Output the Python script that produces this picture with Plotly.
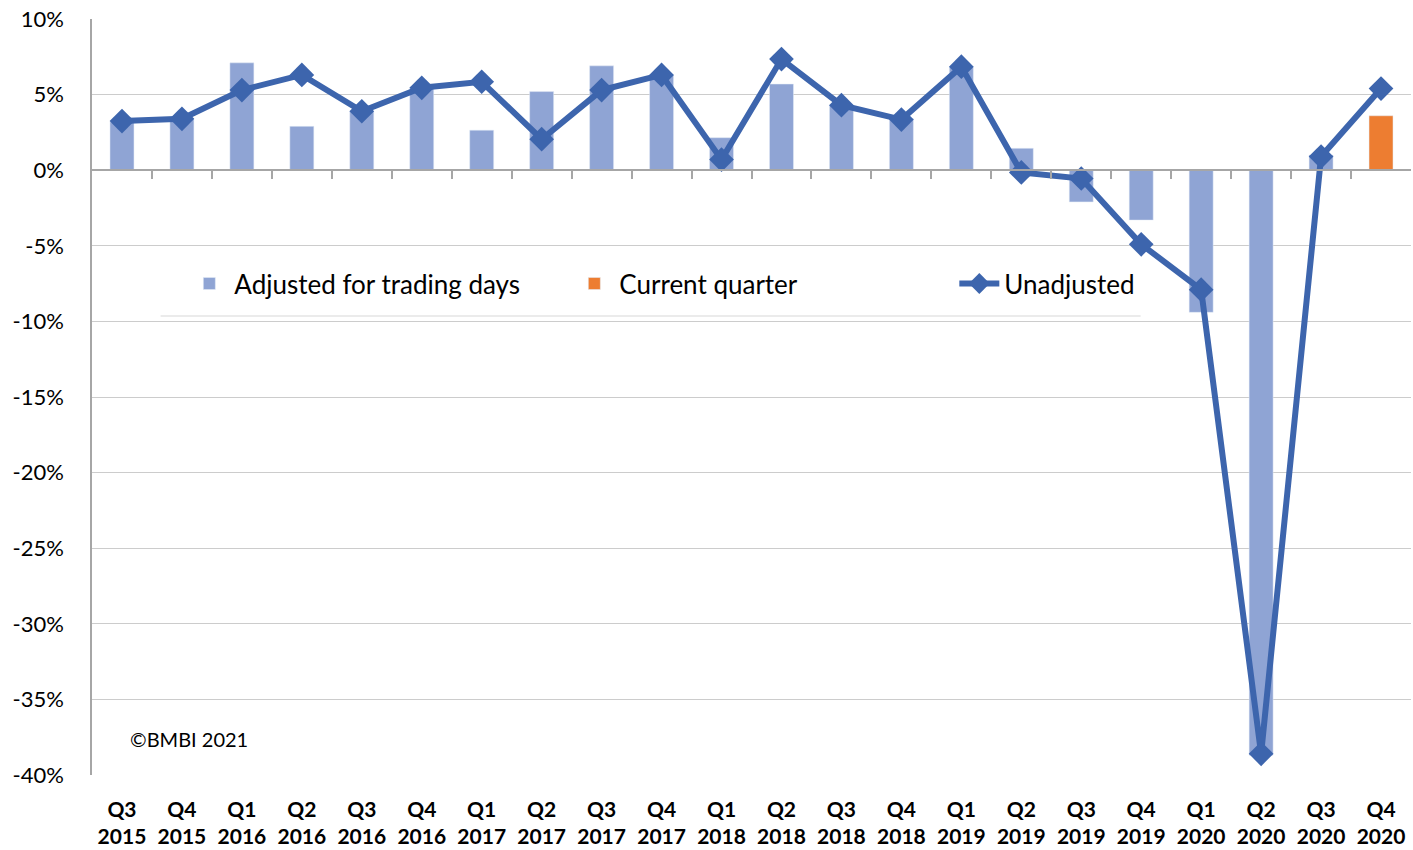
import plotly.graph_objects as go

quarters = ["Q3<br>2015", "Q4<br>2015", "Q1<br>2016", "Q2<br>2016", "Q3<br>2016", "Q4<br>2016",
            "Q1<br>2017", "Q2<br>2017", "Q3<br>2017", "Q4<br>2017", "Q1<br>2018", "Q2<br>2018",
            "Q3<br>2018", "Q4<br>2018", "Q1<br>2019", "Q2<br>2019", "Q3<br>2019", "Q4<br>2019",
            "Q1<br>2020", "Q2<br>2020", "Q3<br>2020", "Q4<br>2020"]

adjusted = [3.2, 3.4, 7.1, 2.9, 3.9, 5.4, 2.65, 5.2, 6.9, 6.3, 2.15, 5.7,
            4.3, 3.4, 6.85, 1.45, -2.1, -3.3, -9.4, -38.7, 1.0, None]

current_quarter = [None] * 21 + [3.6]

unadjusted = [3.25, 3.4, 5.3, 6.3, 3.9, 5.45, 5.85, 2.05, 5.3, 6.3, 0.7, 7.35,
              4.3, 3.35, 6.85, -0.15, -0.55, -4.9, -7.9, -38.6, 0.9, 5.4]

y_ticks = [10, 5, 0, -5, -10, -15, -20, -25, -30, -35, -40]
y_tick_text = ["10%", "5%", "0%", "-5%", "-10%", "-15%", "-20%", "-25%", "-30%", "-35%", "-40%"]

FONT = "Lato, 'Open Sans', sans-serif"
GRID = "#CCCCCC"

fig = go.Figure()
fig.add_trace(go.Bar(x=quarters, y=adjusted, name="Adjusted for trading days",
                     marker_color="#8FA4D4", width=0.4))
fig.add_trace(go.Bar(x=quarters, y=current_quarter, name="Current quarter",
                     marker_color="#ED7D31", width=0.4))
fig.add_trace(go.Scatter(x=quarters, y=unadjusted, name="Unadjusted", mode="lines+markers",
                         line=dict(color="#3D65AD", width=6),
                         marker=dict(symbol="diamond", size=19, color="#3D65AD")))
# helper trace on the overlaid axis that draws the category boundary ticks on the zero line
fig.add_trace(go.Scatter(x=list(range(len(quarters))), y=unadjusted, xaxis="x2", yaxis="y",
                         mode="markers", marker=dict(opacity=0), showlegend=False,
                         hoverinfo="skip"))

fig.update_layout(
    width=1413, height=850,
    margin=dict(l=92, r=2, t=19, b=75),
    plot_bgcolor="white", paper_bgcolor="white",
    barmode="overlay",
    font=dict(family=FONT, color="#000000"),
    showlegend=True,
    legend=dict(orientation="h", x=0.07, y=0.65, xanchor="left", yanchor="middle",
                font=dict(size=26, family=FONT, color="#000000"),
                entrywidth=330, bgcolor="rgba(0,0,0,0)", itemwidth=40),
    xaxis=dict(type="category", showgrid=False, showline=False, ticks="",
               tickfont=dict(size=21, family=FONT, color="#000000", weight="bold"),
               ticklabelstandoff=20, range=[-0.5, 21.5], automargin=False),
    xaxis2=dict(overlaying="x", anchor="free", position=0.8, range=[-0.5, 21.5],
                showgrid=False, showline=True, linecolor="#A6A6A6", linewidth=1.5,
                ticks="outside", ticklen=8, tickcolor="#A6A6A6", tickwidth=1.5,
                tickvals=[i + 0.5 for i in range(len(quarters) - 1)],
                showticklabels=False, zeroline=False, automargin=False),
    yaxis=dict(range=[-40, 10], tickvals=y_ticks, ticktext=y_tick_text,
               showgrid=True, gridcolor=GRID, gridwidth=1.2, zeroline=False,
               showline=True, linecolor="#A6A6A6", linewidth=1.5,
               tickfont=dict(size=22, family=FONT, color="#000000"),
               ticklabelstandoff=22, automargin=False),
    shapes=[dict(type="line", xref="paper", yref="paper", x0=0.052, x1=0.795,
                 y0=0.607, y1=0.607, line=dict(color="#E4E4E4", width=1.5))],
    annotations=[dict(text="©BMBI 2021", xref="paper", yref="paper", x=0.027, y=0.048,
                      xanchor="left", yanchor="middle", showarrow=False,
                      font=dict(size=20, family=FONT, color="#000000"))],
)

fig.write_html("out.html", config={"displayModeBar": False},
               post_script="document.body.style.margin='0';")
